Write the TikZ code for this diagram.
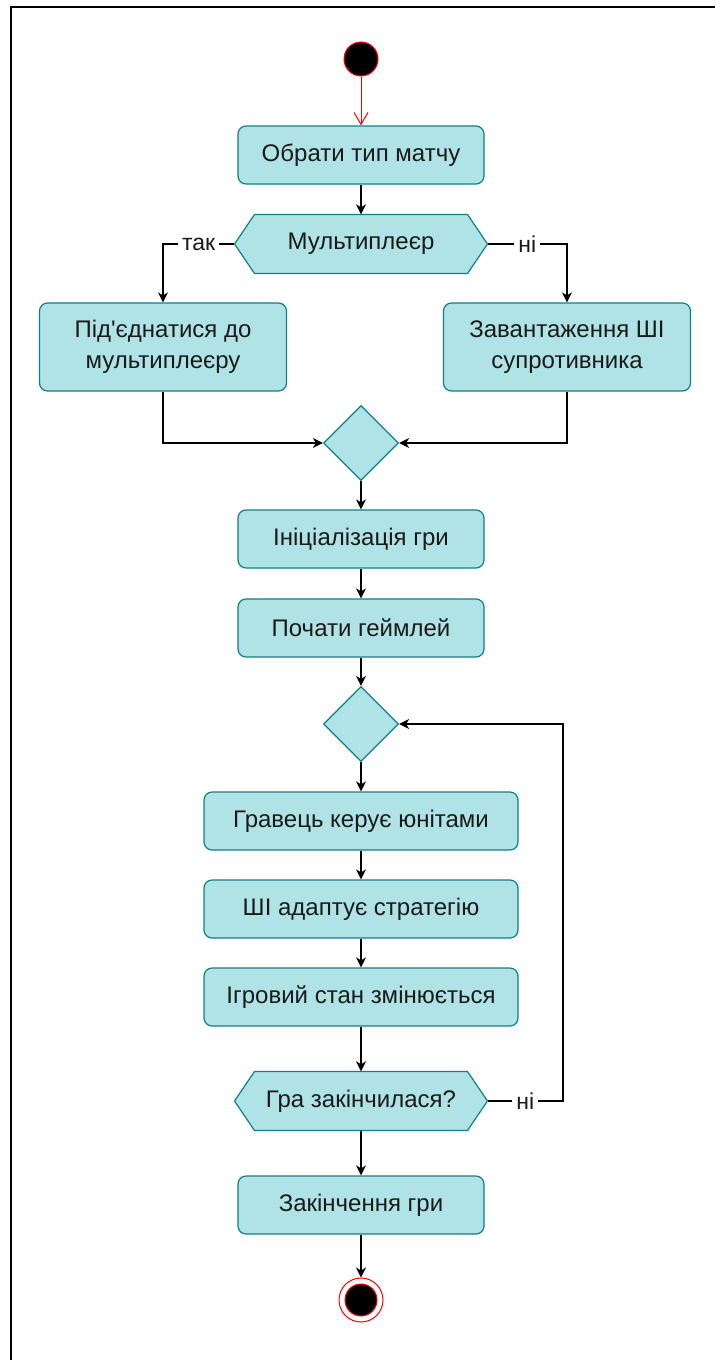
\documentclass[tikz,border=0pt]{standalone}
\usepackage{fontspec}
\setmainfont{Liberation Sans}
\usetikzlibrary{arrows.meta}
\usetikzlibrary{shapes.geometric}

\definecolor{boxfill}{HTML}{B0E3E6}
\definecolor{boxline}{HTML}{0E8088}
\definecolor{ink}{HTML}{1A1A1A}

\newcommand{\hexnode}[4]{   % name, x, y, text
	\draw[draw=boxline, fill=boxfill, line width=1.2pt] (#2 - 126.5, #3) -- (#2 - 106.5, #3 - 29.5) -- (#2 + 106.5, #3 - 29.5) -- (#2 + 126.5, #3) -- (#2 + 106.5, #3 + 29.5) -- (#2 - 106.5, #3 + 29.5) -- cycle;
	\node[hexbox] (#1) at (#2, #3) {#4};
}

\tikzset{
	act/.style={draw=boxline, fill=boxfill, line width=1.2pt, rounded corners=8pt, minimum width=246pt, minimum height=58pt, align=center, text=ink, font=\fontsize{24}{31}\selectfont},
	wideact/.style={act, minimum width=314pt},
	tallact/.style={act, minimum width=247pt, minimum height=88pt},
	merge/.style={diamond, draw=boxline, fill=boxfill, line width=1.2pt, minimum width=75pt, minimum height=75pt, inner sep=0pt},
	hexbox/.style={minimum width=253pt, minimum height=59pt, inner sep=0pt, text=ink, font=\fontsize{24}{31}\selectfont},
	flow/.style={line width=1.2pt, -{Stealth[length=10pt, width=10pt, inset=3pt]}},
	guard/.style={fill=white, inner sep=4pt, text=ink, font=\fontsize{23}{31}\selectfont},
}

\begin{document}
\begin{tikzpicture}[x=1pt, y=-1pt]

\useasboundingbox (0, 0) rectangle (715, 1360);
\draw[line width=2pt] (11, 1360) -- (11, 7) -- (715, 7);

\node[circle, draw=red, fill=black, line width=1pt, minimum size=34pt] (start) at (361, 59) {};

\node[act] (pick) at (361, 155) {Обрати тип матчу};
\hexnode{multi}{361}{244}{Мультиплеєр}

\node[tallact] (join) at (163, 347) {Під\textquotesingle єднатися до\\мультиплеєру};
\node[tallact] (load) at (567, 347) {Завантаження ШІ\\супротивника};

\node[merge] (merge1) at (361, 443) {};

\node[act] (init) at (361, 539) {Ініціалізація гри};
\node[act] (play) at (361, 628) {Почати геймлей};

\node[merge] (merge2) at (361, 724) {};

\node[wideact] (ctrl) at (361, 821) {Гравець керує юнітами};
\node[wideact] (adapt) at (361, 909) {ШІ адаптує стратегію};
\node[wideact] (change) at (361, 997) {Ігровий стан змінюється};

\hexnode{over}{361}{1101}{Гра закінчилася?}

\node[act] (finish) at (361, 1205) {Закінчення гри};

\node[circle, draw=red, fill=white, line width=1pt, minimum size=44pt] (stop) at (361, 1300) {};
\node[circle, draw=red, fill=black, line width=1pt, minimum size=32pt] (stopdot) at (stop) {};

\coordinate (back) at (563, 1101);

\draw[red, line width=1pt, -{Straight Barb[length=12pt, width=14pt]}] (start) -- (pick);
\draw[flow] (pick) -- (multi);
\draw[flow] (multi.west) -| node[guard, pos=0.25] {так} (join);
\draw[flow] (multi.east) -| node[guard, pos=0.25] {ні} (load);
\draw[flow] (join) |- (merge1);
\draw[flow] (load) |- (merge1);
\draw[flow] (merge1) -- (init);
\draw[flow] (init) -- (play);
\draw[flow] (play) -- (merge2);
\draw[flow] (merge2) -- (ctrl);
\draw[flow] (ctrl) -- (adapt);
\draw[flow] (adapt) -- (change);
\draw[flow] (change) -- (over);
\draw[flow] (over.east) -- node[guard] {ні} (back) |- (merge2);
\draw[flow] (over) -- (finish);
\draw[flow] (finish) -- (stop);

\end{tikzpicture}
\end{document}
